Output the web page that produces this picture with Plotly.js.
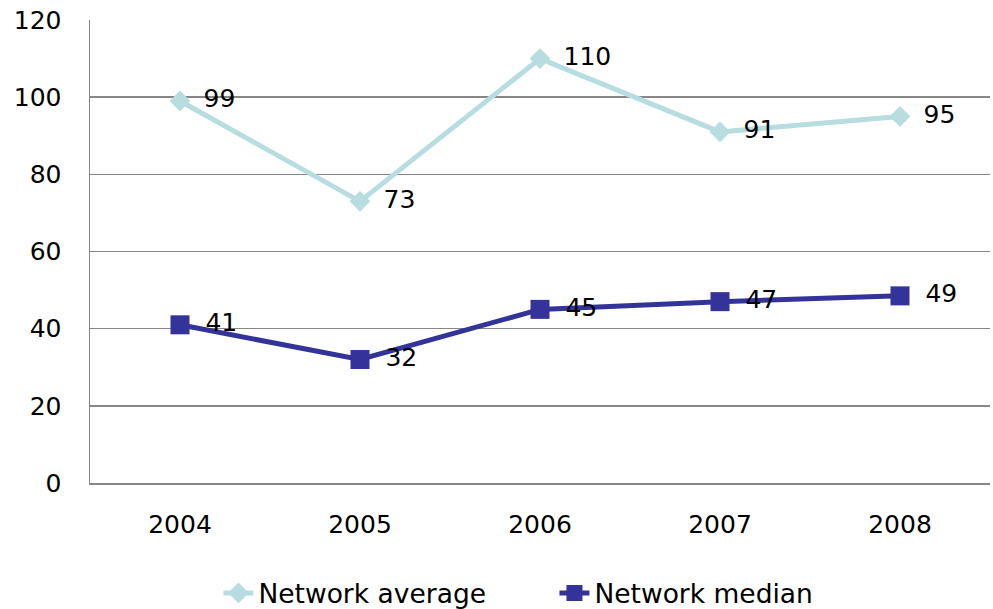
<!DOCTYPE html>
<html>
<head>
<meta charset="utf-8">
<script src="https://cdn.plot.ly/plotly-3.0.1.min.js"></script>
<style>html,body{margin:0;padding:0;background:#fff;}#chart{width:993px;height:609px;}</style>
</head>
<body>
<div id="chart"></div>
<script>
const years = ["2004", "2005", "2006", "2007", "2008"];
const networkAverage = [99, 73, 110, 91, 95];
const networkAverageLabels = ["99", "73", "110", "91", "95"];
const networkMedian = [41, 32, 45, 47, 48.5];
const networkMedianLabels = ["41", "32", "45", "47", "49"];

const font = {family: "DejaVu Sans, Verdana, sans-serif", size: 25, color: "#000"};
const legendFont = {family: "DejaVu Sans, Verdana, sans-serif", size: 26.5, color: "#000"};
const pad = s => "\u2002" + s;

const traces = [
  {
    x: years, y: networkAverage, name: "Network average",
    type: "scatter", mode: "lines+markers+text",
    text: networkAverageLabels.map(pad), textposition: "middle right",
    textfont: font,
    line: {color: "#b7dde0", width: 5},
    marker: {symbol: "diamond", size: 16, color: "#b7dde0"},
    cliponaxis: false
  },
  {
    x: years, y: networkMedian, name: "Network median",
    type: "scatter", mode: "lines+markers+text",
    text: networkMedianLabels.map(pad), textposition: "middle right",
    textfont: font,
    line: {color: "#333399", width: 5},
    marker: {symbol: "square", size: 19, color: "#333399"},
    cliponaxis: false
  }
];

const layout = {
  width: 993, height: 609,
  margin: {l: 90, r: 3, t: 20, b: 126},
  paper_bgcolor: "#fff", plot_bgcolor: "#fff",
  font: font,
  showlegend: true,
  legend: {
    orientation: "h", xref: "container", yref: "container",
    x: 0.22, xanchor: "left", y: 0.026, yanchor: "middle",
    font: legendFont, entrywidth: 291, entrywidthmode: "pixels",
    traceorder: "normal"
  },
  xaxis: {
    type: "category", range: [-0.5, 4.5],
    showgrid: false, showline: true, linecolor: "#878787", linewidth: 1.5,
    ticks: "", tickfont: font, ticklabelstandoff: 18
  },
  yaxis: {
    range: [0, 120], dtick: 20, tick0: 0,
    showgrid: true, gridcolor: "#878787", gridwidth: 1.5,
    showline: true, linecolor: "#878787", linewidth: 1.5,
    zeroline: true, zerolinecolor: "#878787", zerolinewidth: 1.5,
    ticks: "", tickfont: font, ticklabelstandoff: 22
  }
};

Plotly.newPlot("chart", traces, layout, {displayModeBar: false, staticPlot: true});
</script>
</body>
</html>
